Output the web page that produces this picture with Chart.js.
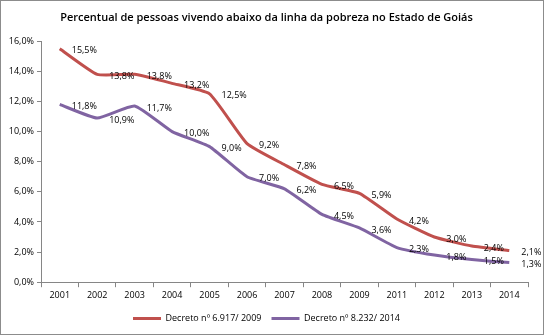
<!DOCTYPE html>
<html lang="pt">
<head>
    <meta charset="UTF-8">
    <script src="https://cdn.jsdelivr.net/npm/chart.js"></script>
    <title>Pobreza Goiás</title>
    <style>
        body { margin: 0; background: #fff; }
        #wrap { width: 544px; height: 335px; box-sizing: border-box; border: 1px solid #8c8c8c; }
    </style>
</head>
<body>
<div id="wrap"><canvas id="myChart" width="542" height="333"></canvas></div>
<script>
    const years = ['2001', '2002', '2003', '2004', '2005', '2006', '2007', '2008', '2009', '2011', '2012', '2013', '2014'];
    const decreto2009 = [15.5, 13.8, 13.8, 13.2, 12.5, 9.2, 7.8, 6.5, 5.9, 4.2, 3.0, 2.4, 2.1];
    const decreto2014 = [11.8, 10.9, 11.7, 10.0, 9.0, 7.0, 6.2, 4.5, 3.6, 2.3, 1.8, 1.5, 1.3];

    const fmt = v => v.toFixed(1).replace('.', ',') + '%';
    const FONT = 'Open Sans';

    // value labels to the right of each point
    const pointLabels = {
        id: 'pointLabels',
        afterDatasetsDraw(chart) {
            const ctx = chart.ctx;
            ctx.save();
            ctx.font = '9px "' + FONT + '"';
            ctx.fillStyle = '#000';
            ctx.textBaseline = 'middle';
            chart.data.datasets.forEach((ds, i) => {
                chart.getDatasetMeta(i).data.forEach((pt, j) => {
                    ctx.fillText(fmt(ds.data[j]), pt.x + 12, pt.y + 2);
                });
            });
            ctx.restore();
        }
    };

    new Chart(document.getElementById('myChart'), {
        type: 'line',
        data: {
            labels: years,
            datasets: [
                { label: 'Decreto nº 6.917/ 2009', data: decreto2009, borderColor: '#c0504d', backgroundColor: '#c0504d', borderWidth: 3, pointRadius: 0, tension: 0.15 },
                { label: 'Decreto nº 8.232/ 2014', data: decreto2014, borderColor: '#8064a2', backgroundColor: '#8064a2', borderWidth: 3, pointRadius: 0, tension: 0.15 }
            ]
        },
        options: {
            responsive: false,
            animation: false,
            layout: { padding: { left: 4, right: 15, top: 0, bottom: 1 } },
            plugins: {
                title: {
                    display: true,
                    text: 'Percentual de pessoas vivendo abaixo da linha da pobreza no Estado de Goiás',
                    color: '#000',
                    font: { family: FONT, size: 11, weight: '600' },
                    padding: { top: 10, bottom: 17 }
                },
                legend: {
                    position: 'bottom',
                    labels: {
                        color: '#000',
                        font: { family: FONT, size: 9 },
                        usePointStyle: true,
                        pointStyle: 'line',
                        pointStyleWidth: 28,
                        boxHeight: 3,
                        padding: 10
                    }
                },
                tooltip: { enabled: false }
            },
            scales: {
                x: {
                    offset: true,
                    grid: { offset: true, drawOnChartArea: false, tickLength: 5, color: '#868686' },
                    border: { color: '#868686' },
                    ticks: { color: '#000', font: { family: FONT, size: 9 }, maxRotation: 0, padding: 3 }
                },
                y: {
                    min: 0, max: 16,
                    afterFit(s) { s.width = 36; },
                    grid: { drawOnChartArea: false, tickLength: 4, color: '#868686' },
                    border: { color: '#868686' },
                    ticks: { stepSize: 2, color: '#000', font: { family: FONT, size: 9 }, padding: 3, callback: v => fmt(v) }
                }
            }
        },
        plugins: [pointLabels]
    });
</script>
</body>
</html>
